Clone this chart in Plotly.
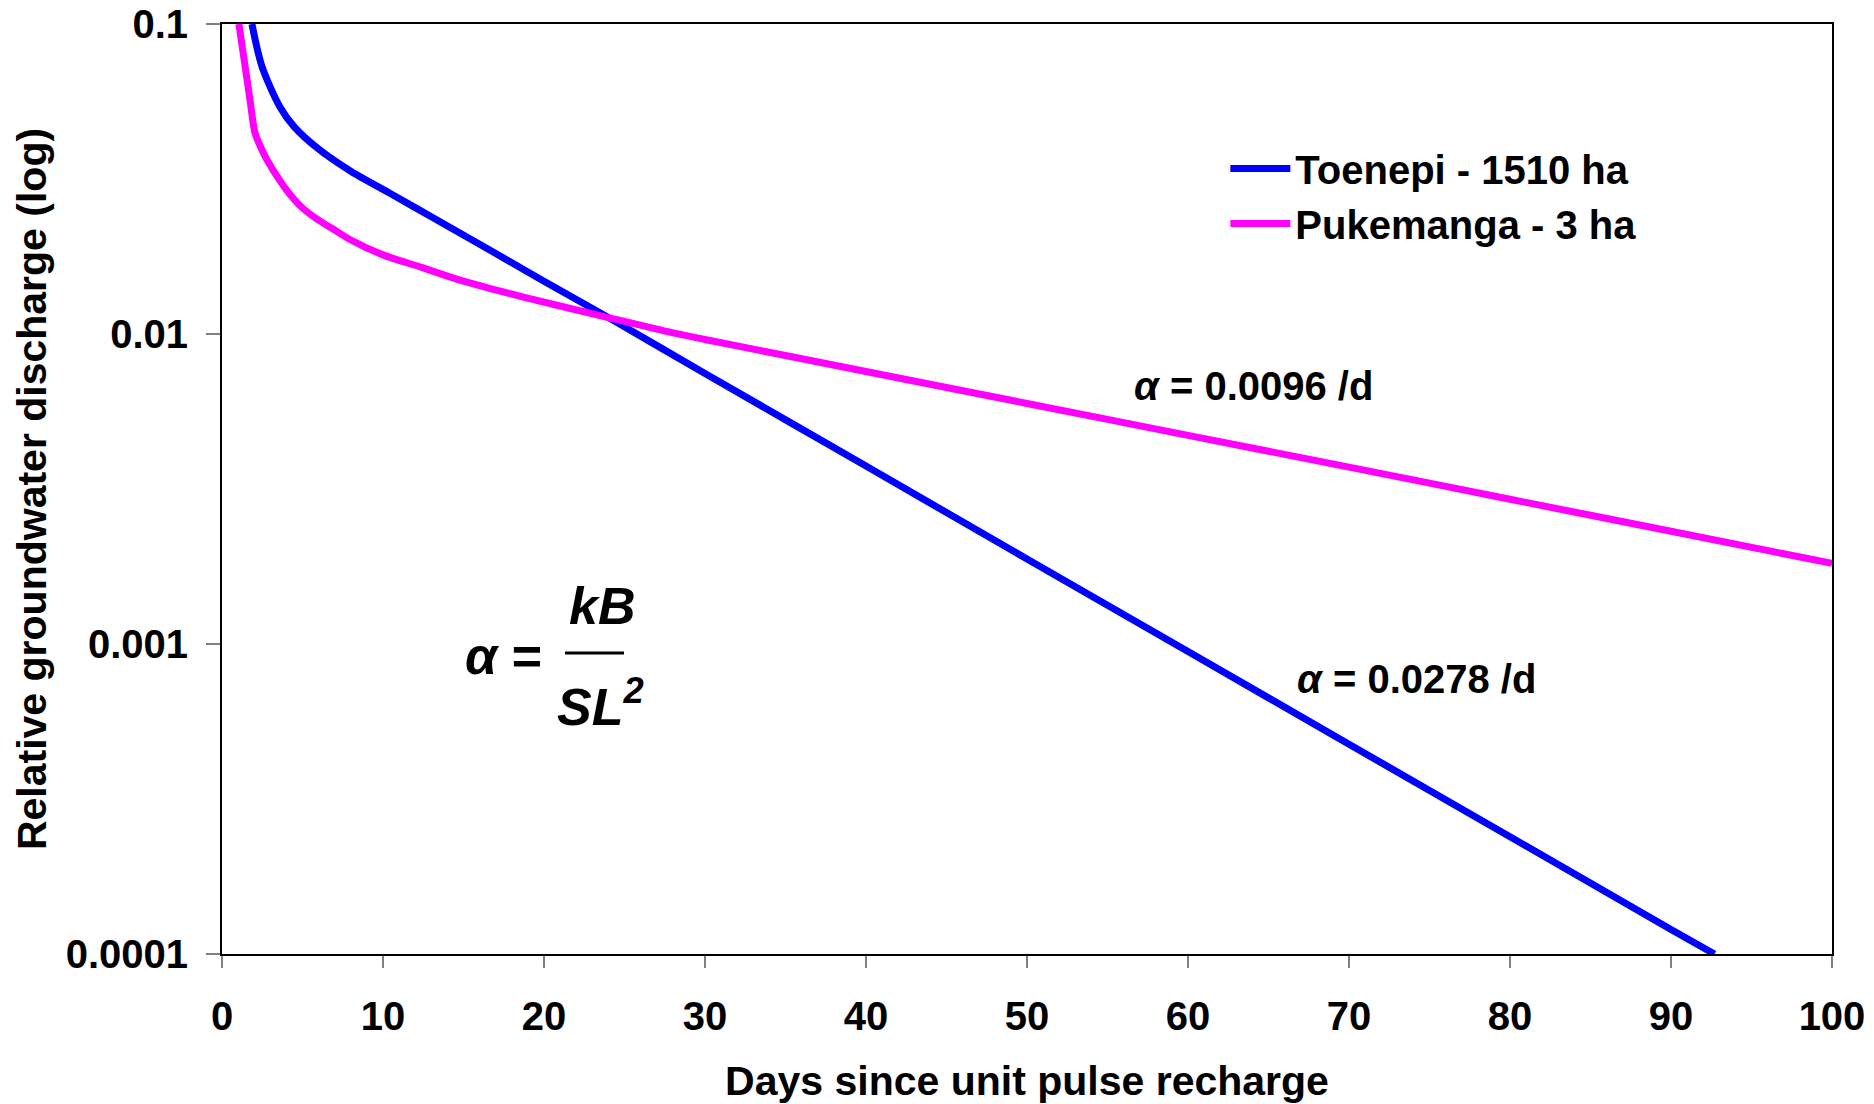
import plotly.graph_objects as go

# Toenepi - 1510 ha (blue)
toenepi_days = [1.86, 2.48, 3.6, 4.5, 6.0, 8.0, 10.4, 13.0, 16.6, 20.0, 24.0, 30.0, 40.0, 50.0, 60.0, 70.0, 80.0, 90.0, 92.7]
toenepi_q = [0.1, 0.073, 0.054, 0.0465, 0.0395, 0.0335, 0.0285, 0.0239, 0.0187, 0.0148, 0.0113, 0.00746, 0.00375,
             0.00188, 0.000946, 0.000475, 0.000239, 0.00012, 0.0001]

# Pukemanga - 3 ha (magenta)
puke_days = [1.05, 1.74, 2.05, 2.48, 2.8, 3.6, 4.2, 5.0, 6.0, 6.9, 8.0, 10.0, 12.4, 15.0, 18.6, 24.0, 27.95, 30.0,
             40.0, 50.0, 60.0, 70.0, 80.0, 90.0, 100.0]
puke_q = [0.1, 0.0569, 0.0445, 0.0393, 0.0364, 0.0312, 0.0283, 0.0255, 0.0233, 0.0218, 0.0201, 0.0180, 0.0164,
          0.0148, 0.0132, 0.0113, 0.0101, 0.0096, 0.00757, 0.00597, 0.00471, 0.00372, 0.00293, 0.00231, 0.00182]

y_ticks = [0.0001, 0.001, 0.01, 0.1]
y_tick_text = ["0.0001", "0.001", "0.01", "0.1"]
x_ticks = [0, 10, 20, 30, 40, 50, 60, 70, 80, 90, 100]

FONT = "Liberation Sans, Arial, sans-serif"

fig = go.Figure()
fig.add_trace(go.Scatter(x=toenepi_days, y=toenepi_q, mode="lines", name="Toenepi - 1510 ha",
                         line=dict(color="#0000FF", width=7, shape="spline", smoothing=0.8)))
fig.add_trace(go.Scatter(x=puke_days, y=puke_q, mode="lines", name="Pukemanga - 3 ha",
                         line=dict(color="#FF00FF", width=7, shape="spline", smoothing=0.8)))

fig.update_layout(
    width=1874, height=1104,
    margin=dict(l=222, r=42, t=24, b=150, autoexpand=False),
    paper_bgcolor="white", plot_bgcolor="white",
    font=dict(family=FONT, size=40, color="black", weight="bold"),
    showlegend=True,
    legend=dict(x=0.6232, y=0.8796, xanchor="left", yanchor="top", bgcolor="rgba(0,0,0,0)",
                font=dict(size=40, family=FONT, weight="bold"), itemwidth=60, tracegroupgap=0),
    xaxis=dict(range=[0, 100], tickvals=x_ticks, showgrid=False, zeroline=False, automargin=False,
               showline=True, linecolor="black", linewidth=2, mirror=True, ticklabeloverflow="allow",
               ticks="outside", ticklen=12, tickcolor="#808080", tickwidth=2, ticklabelstandoff=14,
               tickfont=dict(size=40, family=FONT, weight="bold"),
               title=dict(text="Days since unit pulse recharge", font=dict(size=41, family=FONT, weight="bold"),
                          standoff=37)),
    yaxis=dict(type="log", range=[-4, -1], tickvals=y_ticks, ticktext=y_tick_text, showgrid=False,
               zeroline=False, showline=True, linecolor="black", linewidth=2, mirror=True, automargin=False,
               ticklabeloverflow="allow",
               ticks="outside", ticklen=14, tickcolor="#808080", tickwidth=2, ticklabelstandoff=10,
               tickfont=dict(size=40, family=FONT, weight="bold"),
               title=dict(text="Relative groundwater discharge (log)", font=dict(size=41, family=FONT, weight="bold"),
                          standoff=6)),
)


def px_to_paper(px, py):
    return (px - 222) / 1610, 1 - (py - 24) / 930


ann_font = dict(family=FONT, size=40, color="black", weight="bold")
form_font = dict(family=FONT, size=52, color="black", weight="bold")
for (cx, cy), txt, fnt in [
    ((1253, 386), "<i>α</i> = 0.0096 /d", ann_font),
    ((1416, 679), "<i>α</i> = 0.0278 /d", ann_font),
    ((503, 656), "<i>α</i> =", form_font),
    ((602, 606), "<i>kB</i>", form_font),
    ((600, 703), "<i>SL<sup>2</sup></i>", form_font),
]:
    ax_, ay_ = px_to_paper(cx, cy)
    fig.add_annotation(x=ax_, y=ay_, xref="paper", yref="paper", xanchor="center", yanchor="middle",
                       text=txt, showarrow=False, font=fnt)

lx0, ly = px_to_paper(565, 653)
lx1, _ = px_to_paper(624, 653)
fig.add_shape(type="line", xref="paper", yref="paper", x0=lx0, x1=lx1, y0=ly, y1=ly,
              line=dict(color="black", width=3))

fig.write_html("out.html", config={"displayModeBar": False},
               post_script="document.body.style.margin='0';document.body.style.overflow='hidden';")
